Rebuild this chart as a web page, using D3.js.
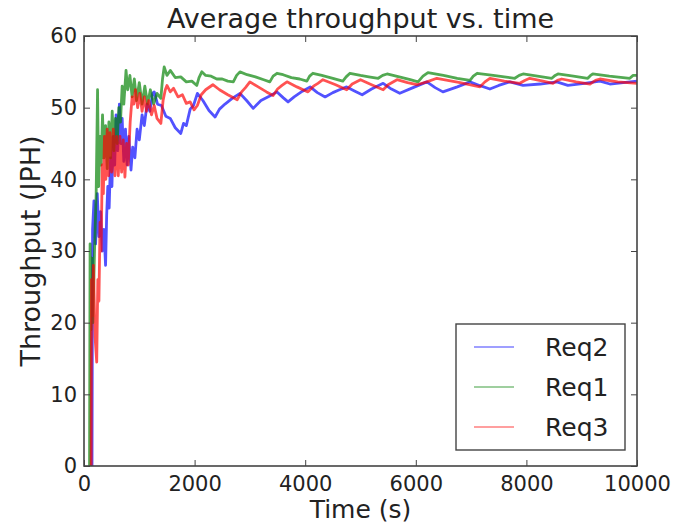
<!DOCTYPE html>
<html>
<head>
	<title>Average throughput vs. time</title>
	<script src="https://d3js.org/d3.v7.min.js"></script>
	<style>
	body{
		margin: 0;
		background: #ffffff;
	}
	text{
		font-family: "DejaVu Sans", sans-serif;
		fill: #222222;
	}
	</style>
</head>
<body>
	<div id="chart"></div>
	<script>
		// series drawn in legend order: Req2, Req1, Req3
		var seriesNames = ["Req2", "Req1", "Req3"];
		var seriesColors = ["#0000ff", "#008000", "#ff0000"];

		var xTicks = [0, 2000, 4000, 6000, 8000, 10000];
		var yTicks = [0, 10, 20, 30, 40, 50, 60];

		// [time (s), throughput (JPH)]
		var req2Data = [
			[145,0],[155,33],[180,37],[210,31],[240,38],[270,32],[300,35.5],[330,30],[360,33],[390,28],
			[410,35],[430,39],[455,36],[480,43],[505,39],[530,46],[555,42],[580,49],[610,44],[640,50.5],
			[665,45],[690,48.5],[720,42.5],[750,47],[780,42],[810,46],[850,41.3],[880,44.5],[920,43],[960,47],
			[1000,45.5],[1050,49],[1090,47.5],[1140,50.5],[1190,49.5],[1240,52],[1270,52.2],[1330,50.5],[1400,50.3],[1480,48.8],
			[1560,48.5],[1650,47.2],[1750,46.4],[1800,47.8],[1850,47.5],[1920,49.8],[1980,50.3],[2050,52],[2150,51],[2260,49.6],
			[2370,48.7],[2450,49.8],[2550,50.5],[2680,51.3],[2820,52],[2940,51],[3060,49.9],[3200,51],[3350,51.6],[3490,52.2],
			[3600,51.4],[3690,50.8],[3800,51.5],[3950,52.3],[4090,52.9],[4220,52.1],[4360,51.5],[4500,52.1],[4620,52.5],[4750,52.9],
			[4900,52.3],[5030,51.8],[5200,52.6],[5410,53.4],[5560,52.6],[5710,52],[5950,52.8],[6200,53.6],[6350,52.8],[6490,52.2],
			[6750,52.9],[6980,53.6],[7150,53.1],[7340,52.6],[7500,53.1],[7700,53.6],[7940,53.1],[8250,53.3],[8550,53.6],[8750,53.1],
			[9050,53.4],[9330,53.7],[9510,53.3],[9750,53.5],[10000,53.7]
		];

		var req1Data = [
			[100,0],[110,31],[125,19],[140,29],[160,20],[190,30],[220,38],[245,52.5],[265,39],[290,46],
			[310,42],[335,49],[360,43],[390,47.5],[420,41.5],[450,48],[480,43],[510,49.5],[540,44],[570,48.5],
			[600,45],[630,50],[660,48],[690,53],[720,50.5],[760,55.2],[790,52.5],[830,54.5],[870,51.5],[910,54],
			[950,51],[1000,53.5],[1050,50.5],[1100,53],[1150,50.5],[1200,52.5],[1260,50.5],[1320,52],[1390,51.3],[1420,54],
			[1450,55.7],[1500,54.5],[1560,55.2],[1650,54.2],[1750,54.3],[1850,53.6],[1950,53.7],[2040,53.1],[2080,54.2],[2130,55],
			[2200,54.5],[2300,54.4],[2400,54],[2500,54],[2600,53.7],[2700,53.6],[2760,54.5],[2820,55],[2950,54.6],[3100,54.3],
			[3250,53.9],[3360,53.6],[3420,54.4],[3490,54.8],[3600,54.6],[3750,54.2],[3900,54],[4030,53.7],[4080,54.4],[4140,54.8],
			[4300,54.5],[4500,54.1],[4680,53.7],[4740,54.3],[4810,54.8],[5000,54.5],[5150,54.3],[5320,54.1],[5400,54.5],[5480,54.7],
			[5700,54.3],[5900,53.9],[6040,53.6],[6130,54.4],[6220,54.9],[6500,54.5],[6750,54.1],[6980,53.8],[7040,54.4],[7110,54.8],
			[7400,54.5],[7600,54.3],[7790,54.1],[7870,54.5],[7940,54.7],[8200,54.4],[8460,54.1],[8520,54.5],[8570,54.7],[8850,54.4],
			[9110,54.1],[9160,54.5],[9200,54.7],[9500,54.4],[9870,54.1],[9930,54.5],[10000,54.5]
		];

		var req3Data = [
			[130,0],[135,26],[150,21],[170,28],[200,18],[230,14.5],[250,26],[270,23],[290,34],[310,30],
			[330,42],[350,38],[370,46],[395,40],[420,47],[445,40.5],[470,46.5],[500,41],[530,47],[560,40.5],
			[590,46],[620,40.5],[650,46],[680,41],[710,45.5],[740,40.3],[770,45],[800,42],[835,48],[870,51.5],
			[900,50.5],[930,52.5],[970,50],[1010,52],[1050,49.5],[1090,51.5],[1130,49.5],[1170,51],[1220,49],[1270,50.3],
			[1320,48.5],[1390,47.8],[1430,51],[1470,52.5],[1500,53.1],[1560,52.2],[1620,52.7],[1700,51.5],[1780,51.8],[1850,50.6],
			[1920,50.8],[1990,49.7],[2050,50.3],[2120,51.8],[2200,52.5],[2330,53.2],[2450,52.5],[2600,51.8],[2770,51.1],[2850,52.2],
			[2920,52.8],[3000,53.6],[3150,52.9],[3300,52.2],[3420,51.7],[3500,52.6],[3580,53.1],[3670,53.6],[3850,52.9],[4050,52.2],
			[4150,53],[4230,53.4],[4320,53.9],[4550,53.2],[4750,52.5],[4850,53.3],[5000,53.9],[5200,53.2],[5410,52.5],[5500,53.2],
			[5660,53.9],[5850,53.5],[6020,53.2],[6200,53.6],[6380,54.1],[6800,53.5],[7160,52.9],[7250,53.6],[7340,54.1],[7600,53.7],
			[7880,53.4],[7970,53.8],[8060,54.1],[8300,53.7],[8480,53.4],[8560,53.8],[8640,54],[8900,53.6],[9150,53.3],[9250,53.8],
			[9330,54],[9650,53.6],[10000,53.4]
		];

		var seriesData = [req2Data, req1Data, req3Data];

		var width = 677, height = 524;
		var margin = {top: 36, right: 40, bottom: 58, left: 84};
		var plotW = width - margin.left - margin.right,
			plotH = height - margin.top - margin.bottom;

		var svg = d3.select("#chart")
			.append("svg")
			.attr("width", width)
			.attr("height", height);

		var x = d3.scaleLinear().domain([0, 10000]).range([margin.left, margin.left + plotW]);
		var y = d3.scaleLinear().domain([0, 60]).range([margin.top + plotH, margin.top]);

		svg.append("clipPath").attr("id", "plotClip")
			.append("rect")
			.attr("x", margin.left).attr("y", margin.top)
			.attr("width", plotW).attr("height", plotH);

		var line = d3.line()
			.x(function(d){ return x(d[0]); })
			.y(function(d){ return y(d[1]); });

		svg.append("g")
			.attr("clip-path", "url(#plotClip)")
			.selectAll("path")
			.data(seriesData)
			.enter().append("path")
			.attr("d", line)
			.attr("fill", "none")
			.attr("stroke", function(d, i){ return seriesColors[i]; })
			.attr("stroke-width", 2.8)
			.attr("stroke-opacity", 0.68)
			.attr("stroke-linejoin", "round");

		// inward ticks on all four sides, matplotlib classic style
		var tickLen = 6;
		var axisColor = "#444444";
		var fontSize = 21;

		var bottomAxis = svg.append("g")
			.attr("transform", "translate(0," + (margin.top + plotH) + ")")
			.call(d3.axisBottom(x).tickValues(xTicks).tickSize(-tickLen).tickPadding(6).tickFormat(d3.format("d")));
		var topAxis = svg.append("g")
			.attr("transform", "translate(0," + margin.top + ")")
			.call(d3.axisTop(x).tickValues(xTicks).tickSize(-tickLen).tickFormat(""));
		var leftAxis = svg.append("g")
			.attr("transform", "translate(" + margin.left + ",0)")
			.call(d3.axisLeft(y).tickValues(yTicks).tickSize(-tickLen).tickPadding(7));
		var rightAxis = svg.append("g")
			.attr("transform", "translate(" + (margin.left + plotW) + ",0)")
			.call(d3.axisRight(y).tickValues(yTicks).tickSize(-tickLen).tickFormat(""));

		[bottomAxis, topAxis, leftAxis, rightAxis].forEach(function(a){
			a.select(".domain").remove();
			a.selectAll("line").attr("stroke", axisColor).attr("stroke-width", 1);
			a.selectAll("text")
				.attr("font-family", "'DejaVu Sans', sans-serif")
				.attr("font-size", fontSize)
				.attr("fill", "#222222");
		});
		bottomAxis.selectAll("text").attr("dy", "0.9em");

		svg.append("rect")
			.attr("x", margin.left).attr("y", margin.top)
			.attr("width", plotW).attr("height", plotH)
			.attr("fill", "none")
			.attr("stroke", axisColor)
			.attr("stroke-width", 1.6);

		svg.append("text")
			.attr("x", margin.left + plotW / 2)
			.attr("y", 28)
			.attr("text-anchor", "middle")
			.attr("font-size", 27)
			.text("Average throughput vs. time");

		svg.append("text")
			.attr("x", margin.left + plotW / 2)
			.attr("y", 518)
			.attr("text-anchor", "middle")
			.attr("font-size", 25)
			.text("Time (s)");

		svg.append("text")
			.attr("transform", "translate(40," + (margin.top + plotH / 2) + ") rotate(-90)")
			.attr("text-anchor", "middle")
			.attr("font-size", 27)
			.text("Throughput (JPH)");

		// legend, lower right
		var legend = svg.append("g");
		legend.append("rect")
			.attr("x", 456).attr("y", 324)
			.attr("width", 169).attr("height", 126)
			.attr("fill", "#ffffff")
			.attr("stroke", axisColor)
			.attr("stroke-width", 1.4);

		var items = legend.selectAll(".item")
			.data(seriesNames)
			.enter().append("g")
			.attr("class", "item")
			.attr("transform", function(d, i){ return "translate(474," + (347 + i * 40) + ")"; });

		items.append("line")
			.attr("x1", 0).attr("x2", 40)
			.attr("y1", 0).attr("y2", 0)
			.attr("stroke", function(d, i){ return seriesColors[i]; })
			.attr("stroke-width", 1.6)
			.attr("stroke-opacity", 0.5);

		items.append("text")
			.attr("x", 71)
			.attr("dy", "0.35em")
			.attr("font-size", 25)
			.text(function(d){ return d; });
	</script>
</body>
</html>
